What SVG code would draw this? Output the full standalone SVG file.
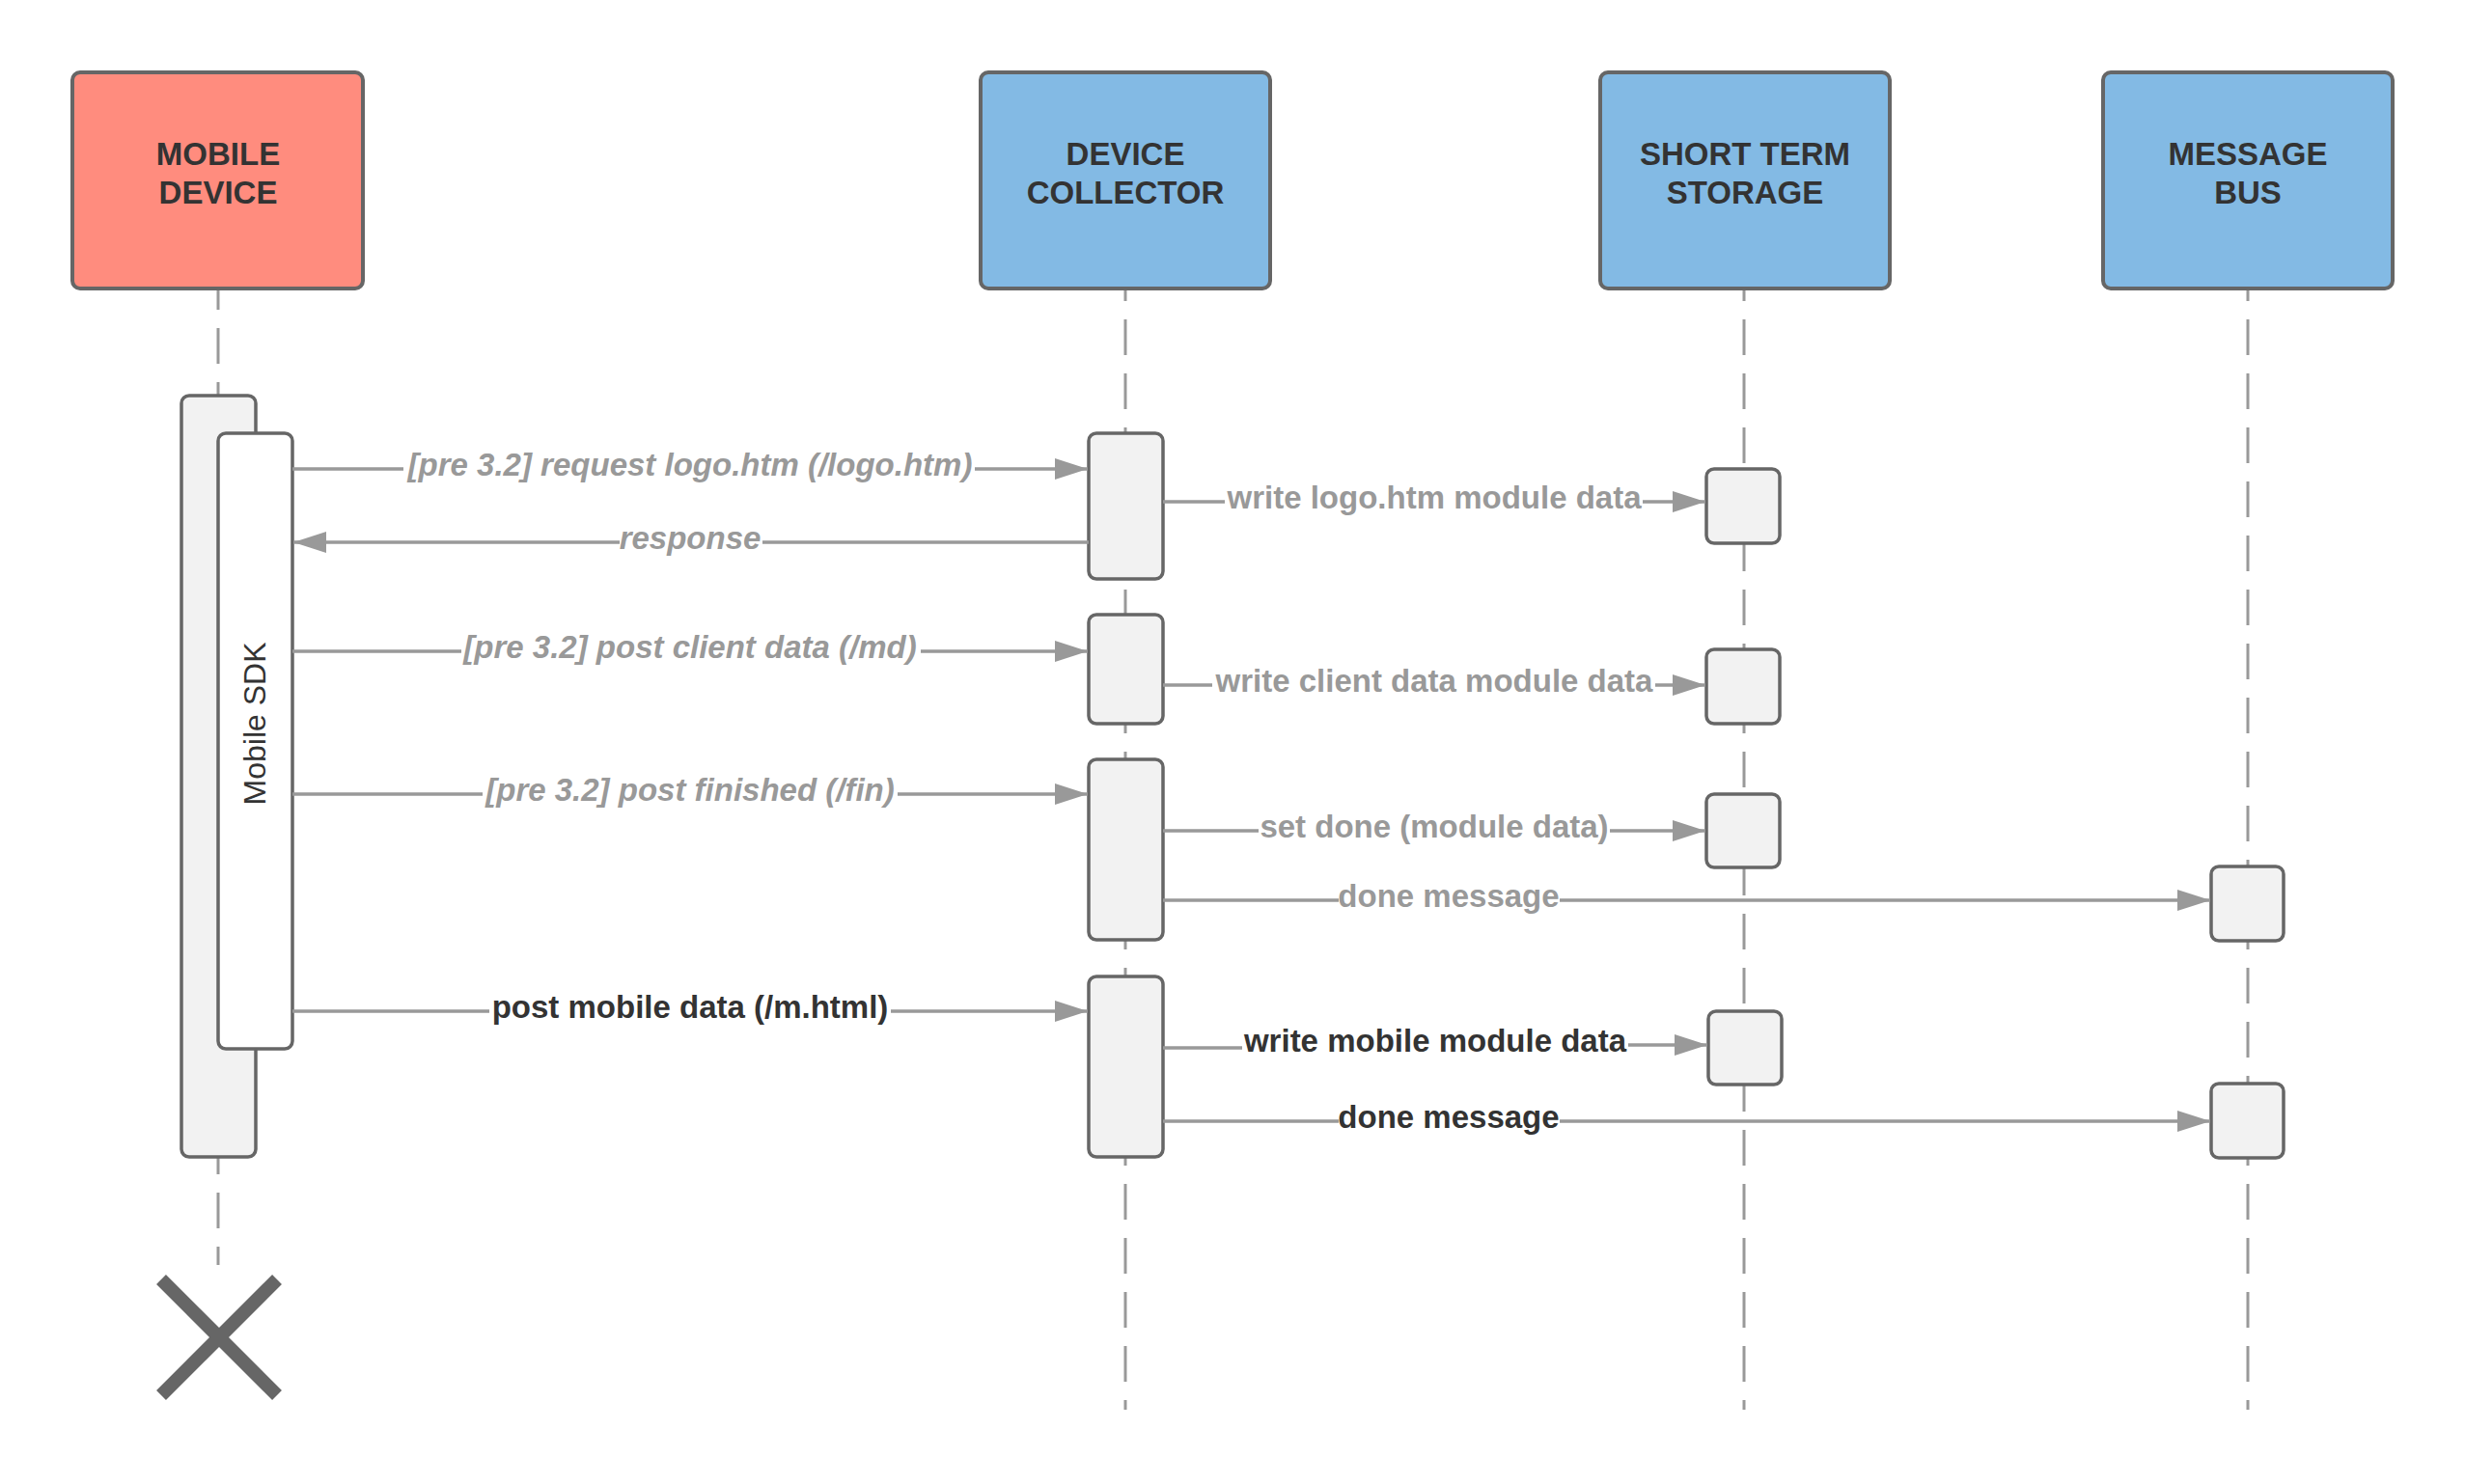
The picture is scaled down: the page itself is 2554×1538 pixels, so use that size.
<svg xmlns="http://www.w3.org/2000/svg" width="2554" height="1538" viewBox="0 0 2554 1538">
  <style>
    .head { stroke: #666; stroke-width: 4; }
    .red { fill: #ff8c7e; }
    .blue { fill: #83bae4; }
    .htext { font-family: "Liberation Sans", Arial, sans-serif; font-weight: bold; font-size: 33px; fill: #333; text-anchor: middle; }
    .life { stroke: #999; stroke-width: 3; stroke-dasharray: 37 19; fill: none; }
    .act { fill: #f2f2f2; stroke: #666; stroke-width: 3.5; }
    .sdkbox { fill: #fff; stroke: #666; stroke-width: 3.5; }
    .msg { stroke: #999; stroke-width: 3.5; fill: none; }
    .lbl { font-family: "Liberation Sans", Arial, sans-serif; font-weight: bold; font-size: 33px; text-anchor: middle; }
    .grey { fill: #999; }
    .dark { fill: #333; }
    .it { font-style: italic; }
    .sdk { font-family: "Liberation Sans", Arial, sans-serif; font-size: 32px; fill: #333; text-anchor: middle; }
  </style>
  <defs>
    <marker id="arrow" viewBox="0 0 34 22" refX="34" refY="11" markerWidth="34" markerHeight="22" markerUnits="userSpaceOnUse" orient="auto">
      <path d="M0,0 L34,11 L0,22 Z" fill="#999"/>
    </marker>
  </defs>

  <rect width="2554" height="1538" fill="#fff"/>

  <!-- lifelines -->
  <g id="lifelines">
    <line class="life" x1="226" y1="299" x2="226" y2="1311" stroke-dashoffset="15"/>
    <line class="life" x1="1166" y1="299" x2="1166" y2="1461" stroke-dashoffset="24"/>
    <line class="life" x1="1807" y1="299" x2="1807" y2="1461" stroke-dashoffset="24"/>
    <line class="life" x1="2329" y1="299" x2="2329" y2="1461" stroke-dashoffset="24"/>
  </g>

  <!-- participants -->
  <g id="mobile-device">
    <rect class="head red" x="75" y="75" width="301" height="224" rx="8"/>
    <text class="htext" x="226" y="171">MOBILE</text>
    <text class="htext" x="226" y="211">DEVICE</text>
  </g>
  <g id="device-collector">
    <rect class="head blue" x="1016" y="75" width="300" height="224" rx="8"/>
    <text class="htext" x="1166" y="171">DEVICE</text>
    <text class="htext" x="1166" y="211">COLLECTOR</text>
  </g>
  <g id="short-term-storage">
    <rect class="head blue" x="1658" y="75" width="300" height="224" rx="8"/>
    <text class="htext" x="1808" y="171">SHORT TERM</text>
    <text class="htext" x="1808" y="211">STORAGE</text>
  </g>
  <g id="message-bus">
    <rect class="head blue" x="2179" y="75" width="300" height="224" rx="8"/>
    <text class="htext" x="2329" y="171">MESSAGE</text>
    <text class="htext" x="2329" y="211">BUS</text>
  </g>

  <!-- activations -->
  <g id="mobile-activation">
    <rect class="act" x="188" y="410" width="77" height="789" rx="8"/>
  </g>
  <g id="mobile-sdk">
    <rect class="sdkbox" x="226" y="449" width="77" height="638" rx="8"/>
    <text class="sdk" transform="translate(275 750) rotate(-90)">Mobile SDK</text>
  </g>
  <g id="collector-activations">
    <rect class="act" x="1128" y="449" width="77" height="151" rx="8"/>
    <rect class="act" x="1128" y="637" width="77" height="113" rx="8"/>
    <rect class="act" x="1128" y="787" width="77" height="187" rx="8"/>
    <rect class="act" x="1128" y="1012" width="77" height="187" rx="8"/>
  </g>
  <g id="storage-activations">
    <rect class="act" x="1768" y="486" width="76" height="77" rx="8"/>
    <rect class="act" x="1768" y="673" width="76" height="77" rx="8"/>
    <rect class="act" x="1768" y="823" width="76" height="76" rx="8"/>
    <rect class="act" x="1770" y="1048" width="76" height="76" rx="8"/>
  </g>
  <g id="bus-activations">
    <rect class="act" x="2291" y="898" width="75" height="77" rx="8"/>
    <rect class="act" x="2291" y="1123" width="75" height="77" rx="8"/>
  </g>

  <!-- destruction mark -->
  <g id="destroy" stroke="#666" stroke-width="14">
    <line x1="167" y1="1326" x2="287" y2="1446"/>
    <line x1="167" y1="1446" x2="287" y2="1326"/>
  </g>

  <!-- messages: each line is broken where its label sits -->
  <g id="connectors">
    <path class="msg" d="M303,486 H418"/>
    <path class="msg" d="M1010,486 H1127" marker-end="url(#arrow)"/>

    <path class="msg" d="M1205,520 H1269"/>
    <path class="msg" d="M1702,520 H1767" marker-end="url(#arrow)"/>

    <path class="msg" d="M1128,562 H790"/>
    <path class="msg" d="M642,562 H304" marker-end="url(#arrow)"/>

    <path class="msg" d="M303,675 H478"/>
    <path class="msg" d="M954,675 H1127" marker-end="url(#arrow)"/>

    <path class="msg" d="M1205,710 H1256"/>
    <path class="msg" d="M1715,710 H1767" marker-end="url(#arrow)"/>

    <path class="msg" d="M303,823 H500"/>
    <path class="msg" d="M930,823 H1127" marker-end="url(#arrow)"/>

    <path class="msg" d="M1205,861 H1304"/>
    <path class="msg" d="M1668,861 H1767" marker-end="url(#arrow)"/>

    <path class="msg" d="M1205,933 H1387"/>
    <path class="msg" d="M1616,933 H2290" marker-end="url(#arrow)"/>

    <path class="msg" d="M303,1048 H507"/>
    <path class="msg" d="M923,1048 H1127" marker-end="url(#arrow)"/>

    <path class="msg" d="M1205,1086 H1287"/>
    <path class="msg" d="M1687,1083 H1769" marker-end="url(#arrow)"/>

    <path class="msg" d="M1205,1162 H1387"/>
    <path class="msg" d="M1616,1162 H2290" marker-end="url(#arrow)"/>

    <text class="lbl grey it" x="715" y="493">[pre 3.2] request logo.htm (/logo.htm)</text>
    <text class="lbl grey" x="1486" y="527">write logo.htm module data</text>
    <text class="lbl grey it" x="715" y="569">response</text>
    <text class="lbl grey it" x="715" y="682">[pre 3.2] post client data (/md)</text>
    <text class="lbl grey" x="1486" y="717">write client data module data</text>
    <text class="lbl grey it" x="715" y="830">[pre 3.2] post finished (/fin)</text>
    <text class="lbl grey" x="1486" y="868">set done (module data)</text>
    <text class="lbl grey" x="1501" y="940">done message</text>
    <text class="lbl dark" x="715" y="1055">post mobile data (/m.html)</text>
    <text class="lbl dark" x="1487" y="1090">write mobile module data</text>
    <text class="lbl dark" x="1501" y="1169">done message</text>
  </g>
</svg>
